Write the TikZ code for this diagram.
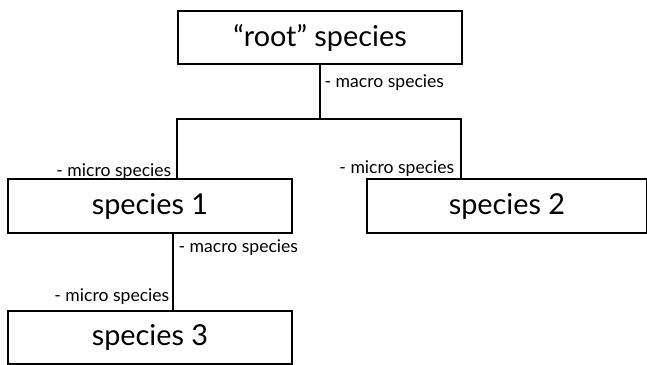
\documentclass[tikz,border=0pt]{standalone}
\usepackage{fontspec}
\setmainfont{Lato}
\begin{document}
\begin{tikzpicture}[x=0.025cm,y=-0.025cm,
  box/.style={draw,line width=1.3pt,minimum width=7.1cm,minimum height=1.33cm,font=\fontsize{20.5}{24}\selectfont},
  tag/.style={font=\fontsize{12.5}{14}\selectfont,inner sep=1pt}]

\useasboundingbox (0,0) rectangle (647,365);

% boxes
\node[box] (root) at (320,37.5) {``root'' species};
\node[box] (sa) at (150,206) {species 1};
\node[box,minimum width=7.0cm] (sb) at (507,206) {species 2};
\node[box] (sc) at (150,337.5) {species 3};

% junction
\coordinate (jl) at (177,119);
\coordinate (jr) at (461,119);
\coordinate (jc) at (173,0);

% lines
\draw[line width=1.3pt] (root.south) -- (root.south |- jl);
\draw[line width=1.3pt] (jl |- sa.north) -- (jl) -- (jr) -- (jr |- sb.north);
\draw[line width=1.3pt] (jc |- sa.south) -- (jc |- sc.north);

% labels
\node[tag,anchor=west] (m1) at (323,83) {- macro species};
\node[tag,anchor=east] (u1) at (173,172) {- micro species};
\node[tag,anchor=east] (u2) at (456,169) {- micro species};
\node[tag,anchor=west] (m2) at (177,248) {- macro species};
\node[tag,anchor=east] (u3) at (171,297) {- micro species};

\end{tikzpicture}
\end{document}
